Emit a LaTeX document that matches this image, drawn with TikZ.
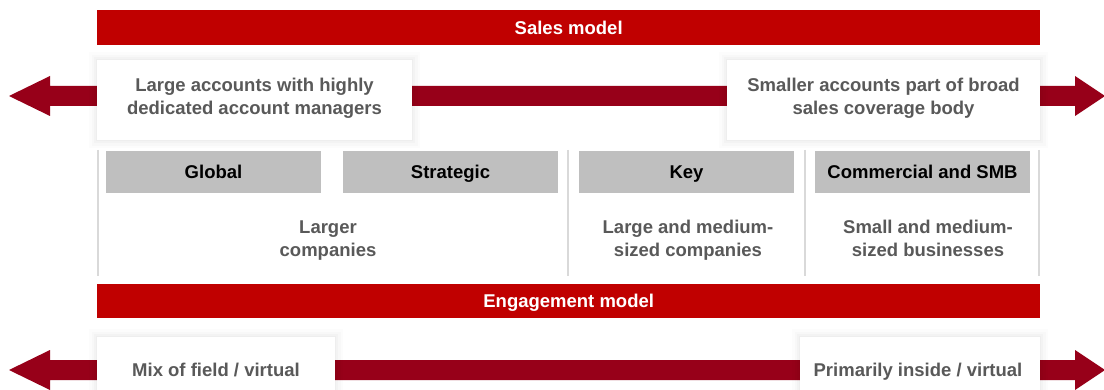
\documentclass[tikz,border=0pt]{standalone}
\usepackage{fontspec}
\setmainfont{Liberation Sans}
\definecolor{barred}{HTML}{C00000}
\definecolor{arrowred}{HTML}{970019}
\definecolor{txtgray}{HTML}{595959}
\definecolor{boxgray}{HTML}{BFBFBF}
\definecolor{linegray}{HTML}{D9D9D9}
\newcommand{\topstrut}{\rule{0pt}{14pt}}
\newcommand{\botstrut}{\rule[-5pt]{0pt}{5pt}}
\begin{document}
\begin{tikzpicture}[x=1pt,y=-1pt,
  lbl/.style={font=\bfseries\fontsize{18.5}{22.5}\selectfont},
  one/.style={lbl, text height=13.4pt, text depth=0pt, inner sep=0pt},
  bar/.style={one, fill=barred, text=white, minimum width=943pt, minimum height=35pt, anchor=north west},
  graybox/.style={one, fill=boxgray, text=black, minimum width=215pt, minimum height=42pt},
  capbox/.style={fill=white, inner sep=0pt, anchor=north west,
     preaction={draw=black, draw opacity=0.012, line width=16pt},
     preaction={draw=black, draw opacity=0.015, line width=11pt},
     preaction={draw=black, draw opacity=0.018, line width=6pt},
     preaction={draw=black, draw opacity=0.02, line width=2.5pt}},
  desc/.style={lbl, text=txtgray, align=center, inner sep=0pt},
  divider/.style={draw=linegray, line width=1.5pt},
  bigarrow/.style={fill=arrowred}
]
\useasboundingbox (0,0) rectangle (1104,390);
\clip (0,0) rectangle (1104,390);
\fill[white] (0,0) rectangle (1104,390);

% Sales model bar
\node[bar] (sales) at (97,10) {Sales model};

% Top double arrow
\fill[bigarrow] (9,96) -- (50,76) -- (50,86) -- (1075,86) -- (1075,76) -- (1105,96)
  -- (1075,116) -- (1075,106) -- (50,106) -- (50,116) -- cycle;

% Top caption boxes
\node[capbox, minimum width=315pt, minimum height=80pt] (large) at (97,60) {};
\node[desc] (largetxt) at (254.5,98.5) {\topstrut Large accounts with highly\\dedicated account managers\botstrut};
\node[capbox, minimum width=313pt, minimum height=80pt] (small) at (727,60) {};
\node[desc] (smalltxt) at (883.5,98.5) {\topstrut Smaller accounts part of broad\\sales coverage body\botstrut};

% Dividers
\draw[divider] (98,150) -- (98,276);
\draw[divider] (568,150) -- (568,276);
\draw[divider] (805,150) -- (805,276);
\draw[divider] (1039,150) -- (1039,276);

% Gray segment boxes
\node[graybox] (global) at (213.5,172) {Global};
\node[graybox] (strategic) at (450.5,172) {Strategic};
\node[graybox] (key) at (686.5,172) {Key};
\node[graybox] (comm) at (922.5,172) {Commercial and SMB};

% Descriptions
\node[desc] (larger) at (328,240.75) {\topstrut Larger\\companies\botstrut};
\node[desc] (lmc) at (688,240.75) {\topstrut Large and medium-\\sized companies\botstrut};
\node[desc] (smb) at (928,240.75) {\topstrut Small and medium-\\sized businesses\botstrut};

% Engagement model bar
\node[bar, minimum height=34pt] (eng) at (97,284) {Engagement model};

% Bottom double arrow
\fill[bigarrow] (9,370) -- (50,350) -- (50,360) -- (1075,360) -- (1075,350) -- (1105,370)
  -- (1075,390) -- (1075,380) -- (50,380) -- (50,390) -- cycle;

% Bottom caption boxes
\node[capbox, minimum width=238pt, minimum height=70pt] (mix) at (97,337) {};
\node[one, text=txtgray] (mixtxt) at (216,369.7) {Mix of field / virtual};
\node[capbox, minimum width=240pt, minimum height=70pt] (prim) at (800,337) {};
\node[one, text=txtgray] (primtxt) at (918,369.7) {Primarily inside / virtual};
\end{tikzpicture}
\end{document}
